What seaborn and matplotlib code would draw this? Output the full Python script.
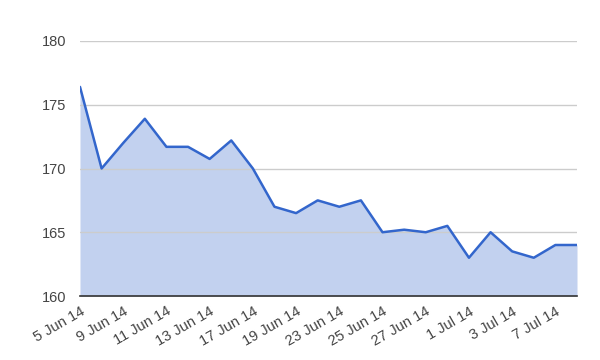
import matplotlib
matplotlib.use("Agg")
import matplotlib.pyplot as plt
import seaborn as sns
import pandas as pd

dates = ["5 Jun 14", "6 Jun 14", "9 Jun 14", "10 Jun 14", "11 Jun 14", "12 Jun 14",
         "13 Jun 14", "16 Jun 14", "17 Jun 14", "18 Jun 14", "19 Jun 14", "20 Jun 14",
         "23 Jun 14", "24 Jun 14", "25 Jun 14", "26 Jun 14", "27 Jun 14", "30 Jun 14",
         "1 Jul 14", "2 Jul 14", "3 Jul 14", "4 Jul 14", "7 Jul 14", "8 Jul 14"]
values = [176.4, 170.0, 172.0, 173.9, 171.7, 171.7, 170.75, 172.2, 170.0, 167.0,
          166.5, 167.5, 167.0, 167.5, 165.0, 165.2, 165.0, 165.5, 163.0, 165.0,
          163.5, 163.0, 164.0, 164.0]
y_ticks = [160, 165, 170, 175, 180]

df = pd.DataFrame({"idx": range(len(dates)), "date": dates, "value": values})

sns.set_theme(style="white")
plt.rcParams["font.family"] = ["Liberation Sans", "DejaVu Sans"]

fig = plt.figure(figsize=(6, 3.6), dpi=100)
ax = fig.add_axes([80/600, 1-296/360, 497/600, 255/360])

line_color = "#3366cc"
ax.fill_between(df["idx"], df["value"], 160, color="#c2d1ef", linewidth=0, zorder=1)
sns.lineplot(data=df, x="idx", y="value", ax=ax, color=line_color, linewidth=1.8, zorder=3)

ax.set_xlim(0, len(dates) - 1)
ax.set_ylim(160, 180)
ax.set_yticks(y_ticks)
ax.set_yticklabels([str(t) for t in y_ticks])
ax.yaxis.grid(True, color="#cccccc", linewidth=1, zorder=2)
ax.set_axisbelow(False)
for gl in ax.get_ygridlines():
    gl.set_zorder(2)

ticks = list(range(0, len(dates), 2))
ax.set_xticks(ticks)
ax.set_xticklabels([dates[i] for i in ticks], rotation=30, ha="right",
                   rotation_mode="anchor")

ax.tick_params(axis="both", length=0, labelsize=10.5, labelcolor="#444444")
ax.tick_params(axis="y", pad=10)
ax.tick_params(axis="x", pad=6)

for s in ["top", "right", "left"]:
    ax.spines[s].set_visible(False)
ax.spines["bottom"].set_color("#333333")
ax.spines["bottom"].set_linewidth(1.2)
ax.spines["bottom"].set_zorder(4)

ax.set_xlabel("")
ax.set_ylabel("")

fig.savefig("out.png", dpi=100)
